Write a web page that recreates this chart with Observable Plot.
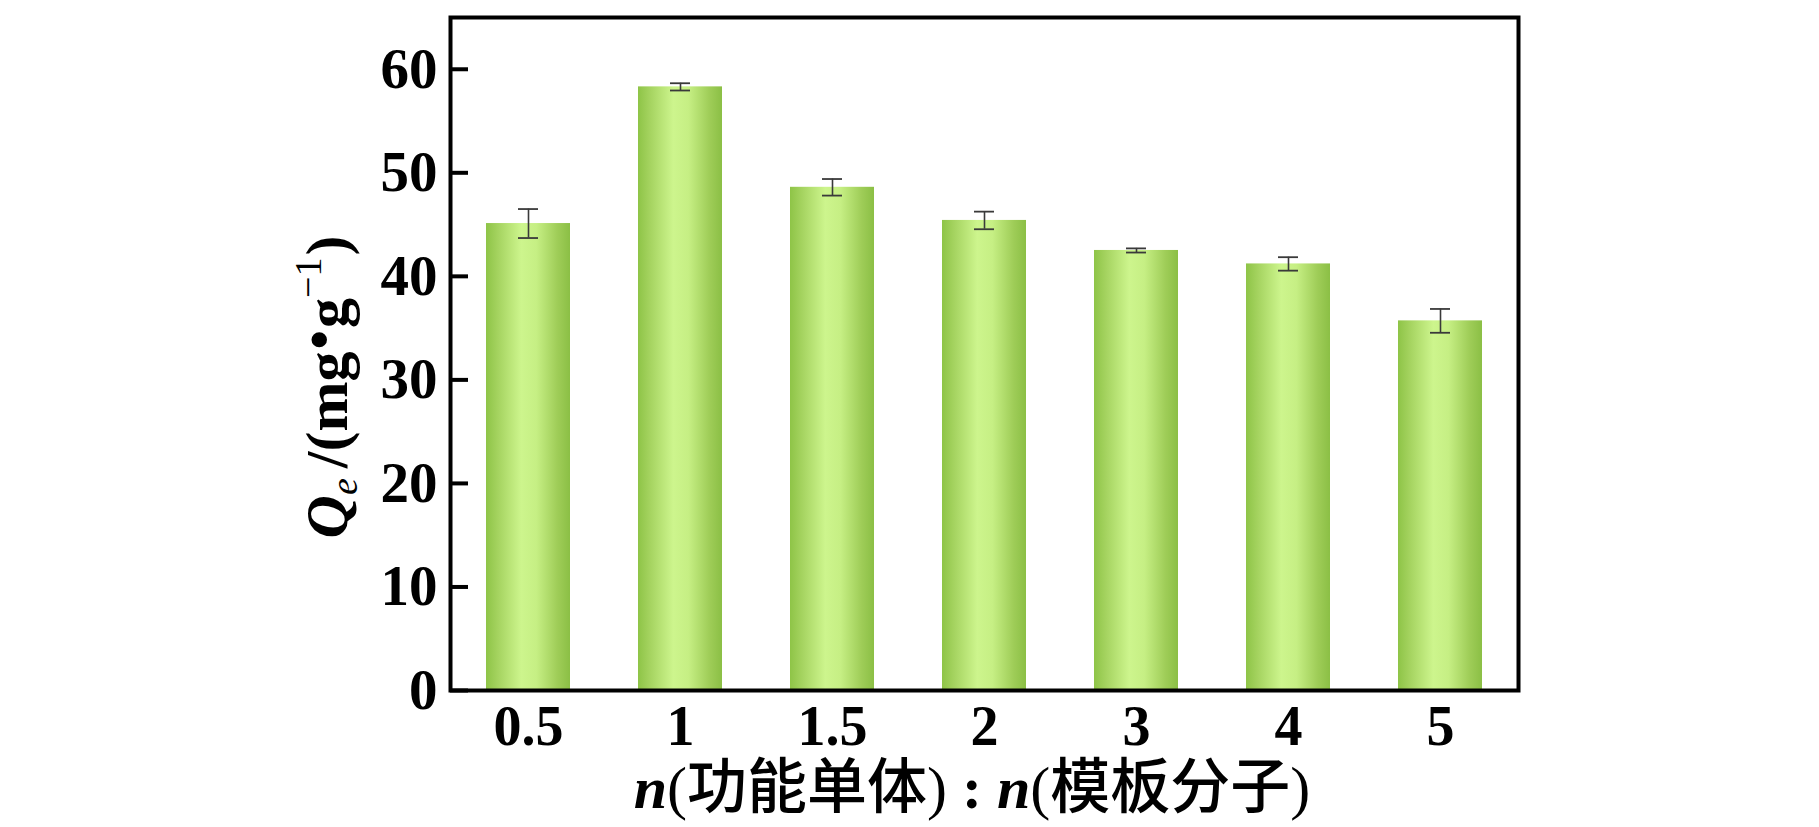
<!DOCTYPE html>
<html>
<head>
<meta charset="utf-8">
<script src="https://cdn.jsdelivr.net/npm/d3@7"></script>
<script src="https://cdn.jsdelivr.net/npm/@observablehq/plot@0.6"></script>
<style>
  html, body { margin: 0; padding: 0; background: white; }
</style>
</head>
<body>
<div id="chart"></div>
<script>
const categories = ["0.5", "1", "1.5", "2", "3", "4", "5"];
const qeValues = [45.1, 58.3, 48.6, 45.4, 42.5, 41.2, 35.7];
const qeErrors = [1.4, 0.35, 0.8, 0.85, 0.2, 0.65, 1.15];
const yTicks = [0, 10, 20, 30, 40, 50, 60];

const data = categories.map((c, i) => ({cat: c, qe: qeValues[i], err: qeErrors[i]}));

const W = 1819, H = 827;
const mL = 450, mR = 301, mT = 17, mB = 137;
const plotW = W - mL - mR;

const serif = "'Liberation Serif', 'Times New Roman', serif";
const cjk = "'Noto Sans CJK SC', sans-serif";

const svg = Plot.plot({
  width: W,
  height: H,
  marginLeft: mL,
  marginRight: mR,
  marginTop: mT,
  marginBottom: mB,
  style: {fontFamily: serif, background: "white", color: "black"},
  x: {domain: categories, paddingInner: 0.45, paddingOuter: 0.225, label: null},
  y: {domain: [0, 65], label: null},
  marks: [
    Plot.barY(data, {x: "cat", y: "qe", fill: "url(#barGrad)"}),
    Plot.ruleX(data, {x: "cat", y1: d => d.qe - d.err, y2: d => d.qe + d.err, stroke: "#3a3a3a", strokeWidth: 1.6}),
    Plot.tickY(data, {x: "cat", y: d => d.qe - d.err, inset: 32, stroke: "#3a3a3a", strokeWidth: 1.8}),
    Plot.tickY(data, {x: "cat", y: d => d.qe + d.err, inset: 32, stroke: "#3a3a3a", strokeWidth: 1.8}),
    Plot.ruleY(yTicks, {y: d => d, insetRight: plotW - 18, stroke: "black", strokeWidth: 4}),
    Plot.frame({stroke: "black", strokeWidth: 4}),
    Plot.axisY({ticks: yTicks, tickSize: 0, tickPadding: 13, fontSize: 57, fontWeight: "bold", label: null, tickFormat: d => String(d)}),
    Plot.axisX({tickSize: 0, tickPadding: 15, fontSize: 56, fontWeight: "bold", label: null})
  ]
});

const s = d3.select(svg);
const defs = s.insert("defs", ":first-child");
const g = defs.append("linearGradient").attr("id", "barGrad").attr("x1", "0").attr("x2", "1").attr("y1", "0").attr("y2", "0");
[[0, "#8ec447"], [0.15, "#a6d461"], [0.42, "#cdf58d"], [0.6, "#c6ef84"], [0.85, "#9fcd58"], [1, "#8bbf45"]]
  .forEach(([o, c]) => g.append("stop").attr("offset", o).attr("stop-color", c));

// Y axis title
const yl = s.append("text")
  .attr("transform", "translate(347,387) rotate(-90)")
  .attr("text-anchor", "middle")
  .attr("font-family", serif)
  .attr("font-size", 60)
  .attr("font-weight", "bold")
  .attr("fill", "black");
yl.append("tspan").attr("font-style", "italic").text("Q");
yl.append("tspan").attr("font-style", "italic").attr("font-weight", "normal").attr("font-size", 38).attr("dy", 10).text("e");
yl.append("tspan").attr("dy", -10).attr("dx", 10).text("/(mg");
yl.append("tspan").attr("font-size", 56).attr("dy", -9).attr("dx", 2).text("•");
yl.append("tspan").attr("dy", 9).attr("dx", 2).text("g");
yl.append("tspan").attr("font-size", 38).attr("font-weight", "normal").attr("dy", -26).text("−1");
yl.append("tspan").attr("dy", 26).attr("dx", 2).text(")");

// X axis title
const xl = s.append("text")
  .attr("x", 972)
  .attr("y", 808)
  .attr("text-anchor", "middle")
  .attr("font-family", serif)
  .attr("font-size", 60)
  .attr("fill", "black");
const addPart = (t, ital, font, weight) => {
  const sp = xl.append("tspan").text(t);
  if (ital) sp.attr("font-style", "italic");
  if (font) sp.attr("font-family", font);
  if (weight) sp.attr("font-weight", weight);
};
addPart("n", true, null, "bold");
addPart("(", false);
addPart("功能单体", false, cjk, 500);
addPart(")", false);
addPart(" : ", false, null, "bold");
addPart("n", true, null, "bold");
addPart("(", false);
addPart("模板分子", false, cjk, 500);
addPart(")", false);

document.getElementById("chart").appendChild(svg);
</script>
</body>
</html>
